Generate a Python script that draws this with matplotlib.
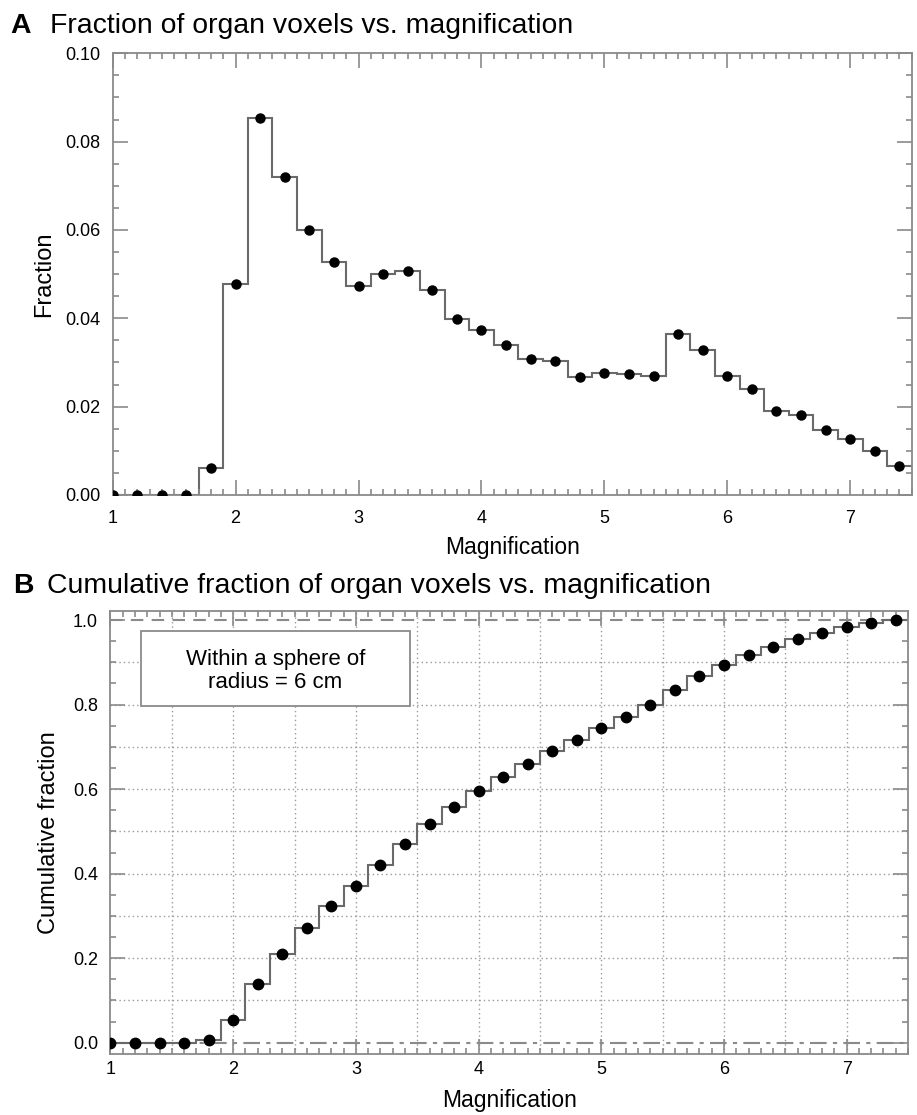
import numpy as np
import matplotlib
matplotlib.use('Agg')
import matplotlib.pyplot as plt
from matplotlib.patches import Rectangle
from matplotlib.ticker import MultipleLocator, FormatStrFormatter

plt.rcParams['font.family'] = ['Liberation Sans', 'DejaVu Sans']

# bin centres (magnification), bins are 0.2 wide
magnification = [1.0, 1.2, 1.4, 1.6, 1.8, 2.0, 2.2, 2.4, 2.6, 2.8, 3.0, 3.2, 3.4, 3.6, 3.8,
                 4.0, 4.2, 4.4, 4.6, 4.8, 5.0, 5.2, 5.4, 5.6, 5.8, 6.0, 6.2, 6.4, 6.6, 6.8,
                 7.0, 7.2, 7.4]
# panel A: fraction of organ voxels per bin
fraction = [0.0, 0.0, 0.0, 0.0, 0.0060, 0.0477, 0.0853, 0.0721, 0.0601, 0.0527, 0.0474,
            0.0501, 0.0506, 0.0464, 0.0399, 0.0373, 0.0340, 0.0307, 0.0303, 0.0266, 0.0275,
            0.0273, 0.0269, 0.0364, 0.0328, 0.0270, 0.0241, 0.0190, 0.0181, 0.0146, 0.0127,
            0.0100, 0.0065]
# panel B: cumulative fraction
cumulative = [0.0, 0.0, 0.0, 0.0, 0.006, 0.054, 0.139, 0.211, 0.271, 0.324, 0.371, 0.421,
              0.471, 0.518, 0.558, 0.595, 0.629, 0.660, 0.690, 0.717, 0.744, 0.771, 0.798,
              0.835, 0.867, 0.894, 0.918, 0.937, 0.956, 0.970, 0.983, 0.993, 0.999]

x_ticks = [1, 2, 3, 4, 5, 6, 7]
box_text = 'Within a sphere of\nradius = 6 cm'

centres = np.array(magnification)
edges = np.append(centres - 0.1, centres[-1] + 0.1)

spine_col = '#8a8a8a'
line_col = '#6a6a6a'

fig = plt.figure(figsize=(9.17, 11.15), dpi=100)
ax1 = fig.add_axes([0.1229, 0.5561, 0.8713, 0.3961])
ax2 = fig.add_axes([0.1205, 0.0547, 0.8697, 0.3973])


def style_axes(ax):
    for s in ax.spines.values():
        s.set_color(spine_col)
        s.set_linewidth(1.3)
    ax.tick_params(which='both', direction='in', top=True, right=True,
                   color=spine_col, width=1.2, labelsize=13)
    ax.tick_params(which='major', length=11)
    ax.tick_params(which='minor', length=4.5)
    ax.set_xlim(1, 7.5)
    ax.set_xticks(x_ticks)
    ax.xaxis.set_minor_locator(MultipleLocator(0.1))


# ---- panel A
style_axes(ax1)
ax1.stairs(fraction, edges, baseline=None, color=line_col, linewidth=1.5)
ax1.plot(centres, fraction, 'o', color='black', markersize=6.5, zorder=3)
ax1.set_ylim(0, 0.10)
ax1.yaxis.set_major_locator(MultipleLocator(0.02))
ax1.yaxis.set_minor_locator(MultipleLocator(0.005))
ax1.yaxis.set_major_formatter(FormatStrFormatter('%.2f'))
ax1.tick_params(axis='x', pad=11)
ax1.tick_params(axis='y', pad=9)
ax1.set_xlabel('Magnification', fontsize=16.5, labelpad=6)
ax1.set_ylabel('Fraction', fontsize=17, labelpad=7)

# ---- panel B
style_axes(ax2)
for gx in np.arange(1.5, 7.5, 0.5):
    ax2.axvline(gx, color='#9a9a9a', linestyle=(0, (1, 2.2)), linewidth=1, zorder=0)
for gy in np.arange(0.1, 1.0, 0.1):
    ax2.axhline(gy, color='#9a9a9a', linestyle=(0, (1, 2.2)), linewidth=1, zorder=0)
ax2.axhline(1.0, color='#8a8a8a', linestyle=(0, (6, 4)), linewidth=1.5, zorder=1)
ax2.axhline(0.0, color='#8a8a8a', linestyle=(0, (8, 3, 2, 3)), linewidth=1.5, zorder=1)
ax2.stairs(cumulative, edges, baseline=None, color=line_col, linewidth=1.5, zorder=2)
ax2.plot(centres, cumulative, 'o', color='black', markersize=7.5, zorder=3)
ax2.set_ylim(-0.0267, 1.0213)
ax2.yaxis.set_major_locator(MultipleLocator(0.2))
ax2.yaxis.set_minor_locator(MultipleLocator(0.05))
ax2.yaxis.set_major_formatter(FormatStrFormatter('%.1f'))
ax2.tick_params(axis='x', pad=5)
ax2.tick_params(axis='y', pad=9)
ax2.set_xlabel('Magnification', fontsize=16.5, labelpad=8)
ax2.set_ylabel('Cumulative fraction', fontsize=17, labelpad=9)

ax2.add_patch(Rectangle((0.038, 0.786), 0.338, 0.169, transform=ax2.transAxes,
                        facecolor='white', edgecolor='#8a8a8a', linewidth=1.3, zorder=4))
ax2.text(0.207, 0.864, box_text, transform=ax2.transAxes, ha='center', va='center',
         fontsize=16, linespacing=1.1, zorder=5)

# ---- panel titles
fig.text(10 / 917, 0.9704, 'A', fontsize=20.4, fontweight='bold', va='baseline')
fig.text(50 / 917, 0.9704, 'Fraction of organ voxels vs. magnification',
         fontsize=20.4, va='baseline')
fig.text(13 / 917, 0.468, 'B', fontsize=20.4, fontweight='bold', va='baseline')
fig.text(47 / 917, 0.468, 'Cumulative fraction of organ voxels vs. magnification',
         fontsize=20.4, va='baseline')

fig.savefig('out.png', dpi=100)
